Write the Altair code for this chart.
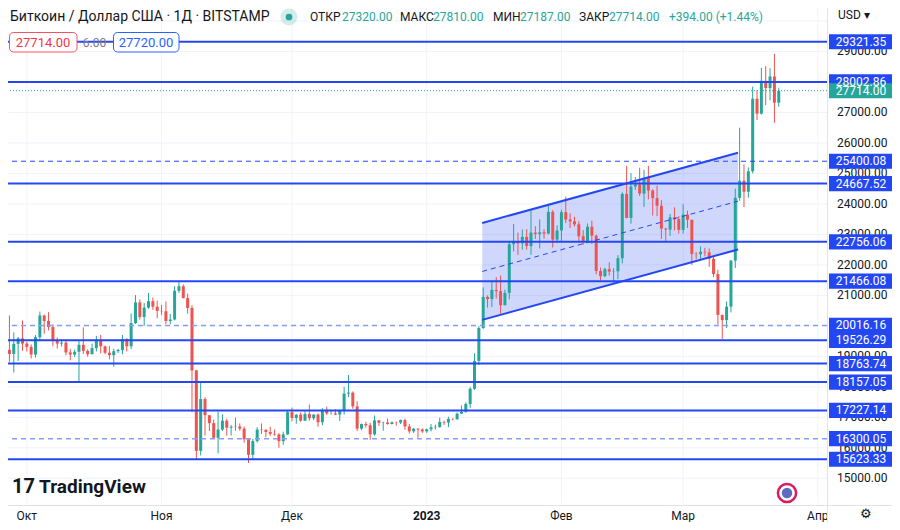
import altair as alt
import pandas as pd

# ---------------- data ----------------
start_date = "2022-09-27"

opens = [
    19220, 19080, 19410, 19590,
    19420, 19310, 19060, 19630, 20340, 20160, 19960, 19530, 19420, 19450, 19130, 19060, 19150, 19380, 19180, 19070,
    19270, 19550, 19330, 19120, 19040, 19170, 19210, 19570, 19330, 20090, 20770, 20290, 20600, 20810, 20630,
    20490, 20480, 20160, 20210, 21150, 21300, 20910, 20590, 18540, 15900, 17600, 17070, 16810, 16330, 16600,
    16890, 16660, 16690, 16700, 16630, 16280, 15770, 16220, 16600, 16590, 16520, 16460, 16440, 16220, 16440,
    17170, 16980, 17090, 16890, 17110, 16970, 17090, 16840, 17220, 17130, 17130, 17090, 17210, 17780, 17810,
    17360, 16630, 16780, 16740, 16440, 16900, 16820, 16830, 16780, 16840, 16830, 16910, 16700, 16540, 16630, 16600,
    16540, 16610, 16670, 16680, 16850, 16830, 16950, 16940, 17120, 17180, 17440, 17940, 18850, 19930, 20950,
    20880, 21180, 21140, 20680, 21080, 22680, 22780, 22710, 22920, 22620, 23060, 23010, 23070, 23030, 23740, 22830,
    23130, 23730, 23490, 23430, 23330, 22940, 22760, 23250, 22960, 21800, 21630, 21860, 21780, 21790,
    22220, 24330, 23540, 24570, 24640, 24340, 24850, 24440, 24190, 23940, 23190, 23160, 23560, 23500,
    23150, 23650, 23480, 22360, 22350, 22430, 22410, 22200, 21700, 20360, 20190, 20630, 22140, 24200,
    24760, 24400, 25070, 27450, 26960, 28040, 27800, 28180, 27320,
]
highs = [
    20340, 19790, 19640, 20180,
    19480, 19390, 19700, 20470, 20370, 20450, 20050, 19620, 19560, 19530, 19250, 19220, 19510, 19950, 19230, 19420,
    19670, 19700, 19350, 19340, 19250, 19250, 19700, 19600, 20410, 21010, 20870, 20750, 21080, 20930, 20830,
    20690, 20800, 20390, 21300, 21480, 21360, 21060, 20680, 18560, 18150, 17660, 17070, 16930, 17190, 17100,
    16960, 16750, 16990, 16800, 16700, 16290, 16290, 16680, 16800, 16610, 16690, 16600, 16480, 16530, 17230,
    17320, 17100, 17160, 17200, 17420, 17110, 17130, 17300, 17350, 17230, 17270, 17240, 18000, 18390, 17850,
    17530, 16800, 16860, 16820, 17060, 16910, 16860, 16960, 16860, 16860, 16930, 16960, 16780, 16650, 16640, 16640,
    16630, 16780, 16760, 16990, 16890, 17020, 16970, 17160, 17390, 17490, 17990, 19100, 19990, 21260, 21000,
    21440, 21600, 21650, 21190, 22750, 23340, 23060, 23160, 23170, 23780, 23270, 23490, 23170, 23950, 23800, 23300,
    23810, 24240, 23690, 23580, 23430, 23140, 23360, 23450, 22990, 21910, 21910, 22090, 21890, 22320,
    24380, 25250, 25010, 24880, 25190, 25120, 25250, 24480, 24600, 24130, 23220, 23670, 23890, 23600,
    23990, 23780, 23480, 22420, 22610, 22560, 22540, 22270, 21840, 20370, 20800, 22160, 24500, 26500,
    25300, 25200, 27850, 27740, 28460, 28520, 28450, 28920, 27810,
]
lows = [
    18820, 18470, 18850, 19180,
    19160, 18930, 18960, 19500, 19740, 19850, 19330, 19260, 19320, 19030, 18870, 18980, 18160, 19080, 18990, 19070,
    19160, 19100, 19070, 18900, 18660, 19110, 19070, 19160, 19240, 20060, 20200, 20000, 20560, 20530, 20250,
    20350, 20060, 20050, 20180, 21080, 20900, 20400, 17170, 15600, 15750, 16400, 16550, 16300, 15820, 16550,
    16400, 16400, 16560, 16560, 16170, 15500, 15620, 16170, 16460, 16350, 16400, 16400, 16000, 16100, 16430,
    16870, 16790, 16860, 16880, 16890, 16910, 16690, 16740, 17080, 17090, 17070, 16880, 17090, 17660, 17280,
    16550, 16580, 16660, 16260, 16400, 16720, 16560, 16760, 16770, 16730, 16780, 16590, 16470, 16490, 16330, 16490,
    16490, 16540, 16600, 16660, 16750, 16680, 16900, 16920, 17110, 17150, 17310, 17900, 18720, 19900, 20600,
    20620, 20900, 20400, 20670, 20870, 22440, 22330, 22500, 22500, 22330, 22850, 22540, 22860, 23000, 22570, 22720,
    22780, 23370, 23210, 23260, 22760, 22660, 22750, 22680, 21690, 21480, 21600, 21650, 21370, 21530,
    22050, 23530, 23350, 24460, 24260, 23900, 24150, 23620, 23600, 22850, 22770, 22950, 23130, 23030,
    23030, 23210, 22000, 22190, 22200, 22280, 21940, 21600, 20050, 19570, 19930, 20440, 21900, 24100,
    23900, 24200, 25000, 26750, 26930, 27240, 27400, 26660, 27187,
]
closes = [
    19080, 19410, 19590, 19420,
    19310, 19060, 19630, 20340, 20160, 19960, 19530, 19420, 19450, 19130, 19060, 19150, 19380, 19180, 19070, 19270,
    19550, 19330, 19120, 19040, 19170, 19210, 19570, 19330, 20090, 20770, 20290, 20600, 20810, 20630, 20490,
    20480, 20160, 20210, 21150, 21300, 20910, 20590, 18540, 15900, 17600, 17070, 16810, 16330, 16600, 16890,
    16660, 16690, 16700, 16630, 16280, 15770, 16220, 16600, 16590, 16520, 16460, 16440, 16220, 16440, 17170,
    16980, 17090, 16890, 17110, 16970, 17090, 16840, 17220, 17130, 17130, 17090, 17210, 17780, 17810, 17360,
    16630, 16780, 16740, 16440, 16900, 16820, 16830, 16780, 16840, 16830, 16910, 16700, 16540, 16630, 16600, 16540,
    16610, 16670, 16680, 16850, 16830, 16950, 16940, 17120, 17180, 17440, 17940, 18850, 19930, 20950, 20880,
    21180, 21140, 20680, 21080, 22680, 22780, 22710, 22920, 22620, 23060, 23010, 23070, 23030, 23740, 22830, 23130,
    23730, 23490, 23430, 23330, 22940, 22760, 23250, 22960, 21800, 21630, 21860, 21780, 21790, 22220,
    24330, 23540, 24570, 24640, 24340, 24850, 24440, 24190, 23940, 23190, 23160, 23560, 23500, 23150,
    23650, 23480, 22360, 22350, 22430, 22410, 22200, 21700, 20360, 20190, 20630, 22140, 24200, 24760,
    24400, 25070, 27450, 26960, 28040, 27800, 28180, 27320, 27714,
]
assert len(opens) == len(highs) == len(lows) == len(closes)

hlines_solid = [29321.35, 28002.86, 24667.52, 22756.06, 21466.08, 19526.29,
                18763.74, 18157.05, 17227.14, 15623.33]
hlines_dashed = [25400.08]
hlines_dashed_light = [20016.16, 16300.05]
last_price = 27714.00

channel_times = ["2023-01-13 18:30", "2023-03-13 15:20"]
channel_upper = [23376, 25676]
channel_lower = [20196, 22507]
channel_mid = [21786, 24091]

month_starts = ["2022-10-01", "2022-11-01", "2022-12-01", "2023-01-01",
                "2023-02-01", "2023-03-01", "2023-04-01"]
month_labels = ["Окт", "Ноя", "Дек", "2023", "Фев", "Мар", "Апр"]

price_ticks = [15000, 16000, 17000, 18000, 19000, 20000, 21000, 22000,
               23000, 24000, 25000, 26000, 27000, 28000, 29000]
grid_prices = price_ticks + [30000]

title = "Биткоин / Доллар США · 1Д · BITSTAMP"
ohlc_names = ["ОТКР", "МАКС", "МИН", "ЗАКР"]
ohlc_values = [27320.00, 27810.00, 27187.00, 27714.00]
change_abs = 394.00
change_pct = 1.44
bid, spread, ask = 27714.00, 6.00, 27720.00

# ---------------- style ----------------
GREEN = "#26a69a"
RED = "#ef5350"
BLUE = "#2447f4"
LIGHT_BLUE = "#8a9bf8"
TEXT = "#131722"
GRID = "#f0f3fa"
BORDER = "#e0e3eb"
FONT = "Roboto"

W, H = 819, 495
base = pd.Timestamp("2022-10-01")
xs = alt.Scale(domain=[-3.18, 182.95], nice=False, zero=False)
ys = alt.Scale(domain=[14190.4, 30426.7], nice=False, zero=False)

dates = pd.date_range(start_date, periods=len(closes), freq="D")
df = pd.DataFrame({"date": dates, "open": opens, "high": highs, "low": lows, "close": closes})
df["day"] = (df["date"] - base).dt.days
df["dir"] = ["up" if c >= o else "down" for o, c in zip(opens, closes)]

X = alt.X("day:Q", scale=xs, axis=None)
col = alt.Color("dir:N", scale=alt.Scale(domain=["up", "down"], range=[GREEN, RED]), legend=None)

wicks = alt.Chart(df).mark_rule(strokeWidth=1).encode(
    x=X, y=alt.Y("low:Q", scale=ys, axis=None), y2="high:Q", color=col)
bodies = alt.Chart(df).mark_bar(size=3).encode(
    x=X, y=alt.Y("open:Q", scale=ys, axis=None), y2="close:Q", color=col)

grid_h = alt.Chart(pd.DataFrame({"p": grid_prices})).mark_rule(color=GRID, strokeWidth=1).encode(
    y=alt.Y("p:Q", scale=ys, axis=None))
mdf = pd.DataFrame({"d": pd.to_datetime(month_starts), "label": month_labels})
mdf["day"] = (mdf["d"] - base).dt.days
grid_v = alt.Chart(mdf).mark_rule(color=GRID, strokeWidth=1).encode(x=X)

ch = pd.DataFrame({"t": pd.to_datetime(channel_times), "upper": channel_upper,
                   "lower": channel_lower, "mid": channel_mid})
ch["day"] = (ch["t"] - base).dt.total_seconds() / 86400.0
ch_area = alt.Chart(ch).mark_area(color=BLUE, opacity=0.22).encode(
    x=X, y=alt.Y("lower:Q", scale=ys, axis=None), y2="upper:Q")
ch_up = alt.Chart(ch).mark_line(color=BLUE, strokeWidth=2).encode(x=X, y=alt.Y("upper:Q", scale=ys, axis=None))
ch_lo = alt.Chart(ch).mark_line(color=BLUE, strokeWidth=2).encode(x=X, y=alt.Y("lower:Q", scale=ys, axis=None))
ch_mid = alt.Chart(ch).mark_line(color=BLUE, strokeWidth=1, strokeDash=[5, 4]).encode(
    x=X, y=alt.Y("mid:Q", scale=ys, axis=None))

hl_solid = alt.Chart(pd.DataFrame({"p": hlines_solid})).mark_rule(color=BLUE, strokeWidth=2).encode(
    y=alt.Y("p:Q", scale=ys, axis=None))
hl_dash = alt.Chart(pd.DataFrame({"p": hlines_dashed})).mark_rule(color=BLUE, strokeWidth=1, strokeDash=[5, 4]).encode(
    y=alt.Y("p:Q", scale=ys, axis=None))
hl_dash_l = alt.Chart(pd.DataFrame({"p": hlines_dashed_light})).mark_rule(
    color=LIGHT_BLUE, strokeWidth=1.5, strokeDash=[5, 4]).encode(y=alt.Y("p:Q", scale=ys, axis=None))
price_line = alt.Chart(pd.DataFrame({"p": [last_price]})).mark_rule(
    color=GREEN, strokeWidth=1, strokeDash=[1, 2]).encode(y=alt.Y("p:Q", scale=ys, axis=None))

TIME_Y = 508
time_norm = alt.Chart(mdf).transform_filter("datum.label != '2023'").mark_text(
    font=FONT, fontSize=12, color=TEXT, baseline="middle").encode(x=X, y=alt.value(TIME_Y), text="label:N")
time_bold = alt.Chart(mdf).transform_filter("datum.label == '2023'").mark_text(
    font=FONT, fontSize=12, color=TEXT, baseline="middle", fontWeight="bold").encode(
    x=X, y=alt.value(TIME_Y), text="label:N")

one = pd.DataFrame({"k": [0]})


def box(x, x2, y, y2, fill="white", stroke=None, r=0, sw=1):
    kw = dict(fill=fill, cornerRadius=r)
    if stroke:
        kw.update(stroke=stroke, strokeWidth=sw)
    return alt.Chart(one).mark_rect(**kw).encode(
        x=alt.value(x), x2=alt.value(x2), y=alt.value(y), y2=alt.value(y2))


def txt(s, x, y, size=12, color=TEXT, align="left", weight="normal"):
    return alt.Chart(one).mark_text(text=s, align=align, baseline="middle", fontSize=size,
                                    color=color, font=FONT, fontWeight=weight).encode(
        x=alt.value(x), y=alt.value(y))


axis_bg = box(820, 884, 0, 514)
border_v = alt.Chart(one).mark_rule(color=BORDER, strokeWidth=1).encode(
    x=alt.value(819.5), y=alt.value(0), y2=alt.value(514))
border_h = alt.Chart(one).mark_rule(color=BORDER, strokeWidth=1).encode(
    x=alt.value(0), x2=alt.value(884), y=alt.value(497.5))

tick_df = pd.DataFrame({"p": price_ticks})
tick_df["label"] = [f"{p:.2f}" for p in price_ticks]
tick_labels = alt.Chart(tick_df).mark_text(font=FONT, fontSize=12, color=TEXT, align="left",
                                           baseline="middle").encode(
    x=alt.value(829), y=alt.Y("p:Q", scale=ys, axis=None), text="label:N")

lab_prices = hlines_solid + hlines_dashed + hlines_dashed_light
lab = pd.DataFrame({"p": lab_prices + [last_price],
                    "c": [BLUE] * len(lab_prices) + [GREEN]})
lab["label"] = [f"{p:.2f}" for p in lab["p"]]
BOX_SHAPE = "M-1,-0.24L1,-0.24L1,0.24L-1,0.24Z"
lab_boxes = alt.Chart(lab).mark_point(shape=BOX_SHAPE, size=63 * 63, filled=True, opacity=1).encode(
    x=alt.value(852.5), y=alt.Y("p:Q", scale=ys, axis=None), color=alt.Color("c:N", scale=None))
lab_text = alt.Chart(lab).mark_text(font=FONT, fontSize=12, color="white", baseline="middle").encode(
    x=alt.value(853), y=alt.Y("p:Q", scale=ys, axis=None), text="label:N")

header = [
    txt(title, 2, 9, size=14),
    alt.Chart(one).mark_point(shape="circle", size=290, filled=True, color=GREEN, opacity=0.2).encode(
        x=alt.value(281), y=alt.value(9)),
    alt.Chart(one).mark_point(shape="circle", size=45, filled=True, color=GREEN, opacity=1).encode(
        x=alt.value(281), y=alt.value(9)),
]
name_x = [302, 392, 485, 571]
val_x = [334, 425, 512, 601]
for n, v, nx, vx in zip(ohlc_names, ohlc_values, name_x, val_x):
    header.append(txt(n, nx, 9, color=TEXT))
    header.append(txt(f"{v:.2f}", vx, 9, color=GREEN))
header.append(txt(f"+{change_abs:.2f} (+{change_pct:.2f}%)", 661, 9, color=GREEN))
header += [
    box(1.5, 69, 24.5, 44, stroke="#f7525f", r=4),
    txt(f"{bid:.2f}", 35, 34.5, size=13, color="#f23645", align="center"),
    txt(f"{spread:.2f}", 86.5, 34.5, size=12, color="#787b86", align="center"),
    box(105.5, 171, 24.5, 44, stroke="#2962ff", r=4),
    txt(f"{ask:.2f}", 138, 34.5, size=13, color="#2962ff", align="center"),
    txt("USD ▾", 830, 7, size=12),
    txt("17", 4, 479, size=20, weight="bold"),
    txt("TradingView", 31, 479, size=19, weight="bold"),
    alt.Chart(one).mark_point(shape="circle", size=330, filled=False, stroke="#d81b60",
                              strokeWidth=2.5, opacity=1).encode(x=alt.value(779), y=alt.value(485)),
    alt.Chart(one).mark_point(shape="circle", size=110, filled=True, color="#5c6bc0", opacity=1).encode(
        x=alt.value(779), y=alt.value(485)),
    txt("⚙", 858, 506, size=13, align="center"),
]

layers = [grid_h, grid_v, ch_area, wicks, bodies, ch_up, ch_lo, ch_mid,
          hl_solid, hl_dash, hl_dash_l, price_line, time_norm, time_bold,
          axis_bg, border_v, border_h, tick_labels, lab_boxes, lab_text] + header

chart = alt.layer(*layers).properties(
    width=W, height=H,
    autosize=alt.AutoSizeParams(type="none"),
    padding={"left": 0, "top": 0, "right": 65, "bottom": 19},
    background="white",
).configure_view(stroke=None)

chart.save("out.html", embed_options={"renderer": "svg", "actions": False})
